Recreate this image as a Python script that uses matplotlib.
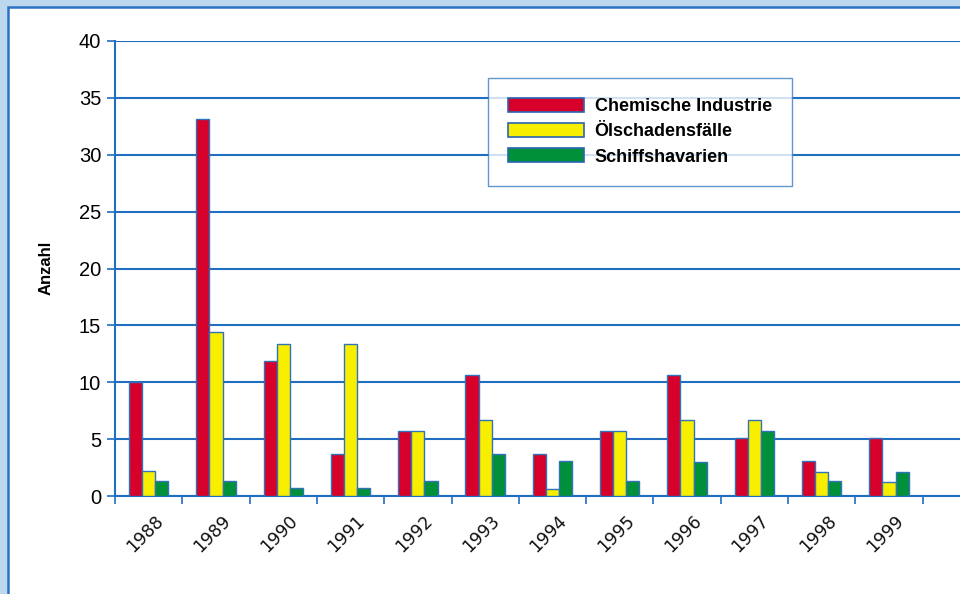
import numpy as np
import matplotlib
matplotlib.use('Agg')
import matplotlib.pyplot as plt
from matplotlib.patches import Rectangle, Patch

# Daten
jahre = ['1988', '1989', '1990', '1991', '1992', '1993',
         '1994', '1995', '1996', '1997', '1998', '1999']
chemie = [10.0, 33.1, 11.9, 3.7, 5.7, 10.6, 3.7, 5.7, 10.6, 5.1, 3.1, 5.1]
oel = [2.2, 14.4, 13.4, 13.4, 5.7, 6.7, 0.6, 5.7, 6.7, 6.7, 2.1, 1.2]
schiff = [1.3, 1.3, 0.7, 0.7, 1.3, 3.7, 3.1, 1.3, 3.0, 5.7, 1.3, 2.1]
serien = ['Chemische Industrie', 'Ölschadensfälle', 'Schiffshavarien']

rot = '#d7002b'
gelb = '#f7ee00'
gruen = '#00903a'
blau = '#1f6ebf'
hellblau = '#bdd7ee'

schrift = ['Liberation Sans', 'DejaVu Sans']

W, H = 960, 594
fig = plt.figure(figsize=(W / 100, H / 100), dpi=100)
fig.patch.set_facecolor(hellblau)

# weisses Feld mit Rahmen
fig.patches.append(Rectangle((8 / W, -0.05), 1.0, 1 - 7 / H + 0.05,
                             transform=fig.transFigure, facecolor='white',
                             edgecolor='#2a72c2', lw=1.8, zorder=-5))

ax = fig.add_axes([115 / W, (H - 496) / H, (W - 115) / W, (496 - 41) / H])
ax.set_facecolor('none')

x = np.arange(len(jahre))
b = 0.195
for werte, farbe, off in [(chemie, rot, -b), (oel, gelb, 0), (schiff, gruen, b)]:
    ax.bar(x + off, werte, width=b, color=farbe, edgecolor='#3073b8',
           linewidth=1.0, zorder=3)

ax.set_ylim(0, 40)
ax.set_xlim(-0.5, -0.5 + (W - 115) / 67.3)
ax.set_yticks(range(0, 41, 5))
ax.yaxis.grid(True, color=blau, lw=1.5, zorder=1)
ax.set_axisbelow(True)

for s in ['top', 'right']:
    ax.spines[s].set_visible(False)
for s in ['left', 'bottom']:
    ax.spines[s].set_color(blau)
    ax.spines[s].set_linewidth(1.5)

ax.tick_params(axis='y', colors=blau, length=6, width=1.2, pad=4)
for t in ax.get_yticklabels():
    t.set_color('black')
    t.set_fontfamily(schrift)
    t.set_fontsize(14.5)

ax.set_xticks(np.arange(len(jahre) + 1) - 0.5)
ax.set_xticklabels([])
ax.tick_params(axis='x', colors=blau, length=6, width=1.2)
for i, j in enumerate(jahre):
    ax.text(i + 0.08, -1.4, j, rotation=45, ha='right', va='top',
            fontsize=12.5, rotation_mode='anchor', color='#111111')

fig.text(46 / W, 1 - 268 / H, 'Anzahl', rotation=90, ha='center', va='center',
         fontsize=12, fontweight='bold', family=schrift)

handles = [Patch(facecolor=c, edgecolor='#2a65b0', lw=1.2) for c in [rot, gelb, gruen]]
leg = fig.legend(handles, serien, loc='upper left',
                 bbox_to_anchor=(488 / W, 1 - 78 / H),
                 frameon=True, fancybox=False, handlelength=4.2, handleheight=0.8,
                 handletextpad=0.6, labelspacing=0.45, borderpad=1.1,
                 borderaxespad=0, prop={'family': schrift, 'weight': 'bold', 'size': 13})
leg.get_frame().set_edgecolor('#3c7cc4')
leg.get_frame().set_linewidth(1.0)

fig.savefig('out.png', dpi=100, facecolor=fig.get_facecolor())
